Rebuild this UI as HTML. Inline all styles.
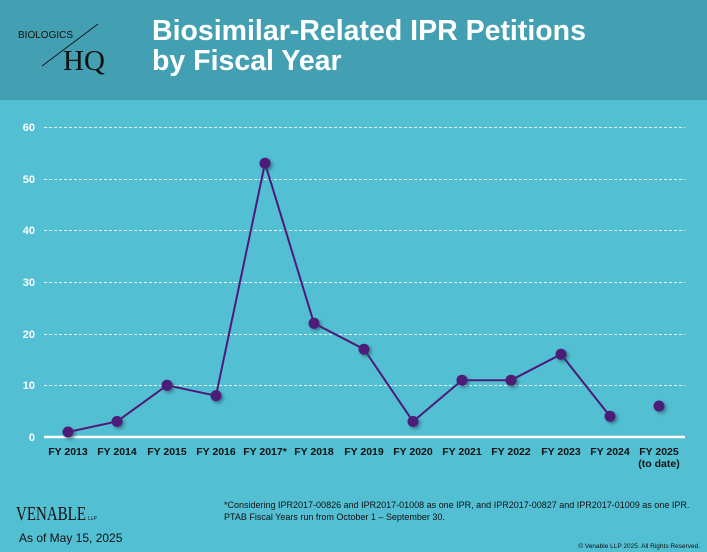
<!DOCTYPE html><html><head><style>
body{margin:0;width:707px;height:552px;overflow:hidden;background:#53BFD3;font-family:"Liberation Sans",sans-serif;position:relative}
.hdr{position:absolute;left:0;top:0;width:707px;height:100px;background:#43A0B3}
.t{position:absolute;left:152px;top:16px;color:#fff;font-weight:bold;font-size:28.5px;line-height:30px}
</style></head><body>
<div class="hdr"></div>
<div class="t">Biosimilar-Related IPR Petitions<br>by Fiscal Year</div>
<svg width="707" height="552" style="position:absolute;left:0;top:0">
<text x="18" y="38" font-size="10" fill="#111" font-family="Liberation Sans">BIOLOGICS</text>
<line x1="42" y1="66" x2="98" y2="24" stroke="#111" stroke-width="0.8"/>
<text x="63" y="70" font-size="29" fill="#111" font-family="Liberation Serif">HQ</text>
<defs><filter id="s" x="-1" y="-1" width="3" height="3"><feDropShadow dx="2" dy="2" stdDeviation="1.5" flood-color="#1a4f5a" flood-opacity="0.6"/></filter></defs>
<g stroke="#fff" stroke-width="1" stroke-dasharray="3,2" opacity="0.85">
<line x1="44" x2="685" y1="127.5" y2="127.5"/><line x1="44" x2="685" y1="179.5" y2="179.5"/><line x1="44" x2="685" y1="230.5" y2="230.5"/><line x1="44" x2="685" y1="282.5" y2="282.5"/><line x1="44" x2="685" y1="334.5" y2="334.5"/><line x1="44" x2="685" y1="385.5" y2="385.5"/>
</g>
<line x1="44" x2="685" y1="437" y2="437" stroke="#fff" stroke-width="2.5"/>
<g fill="#fff" font-size="11" font-weight="bold" text-anchor="end">
<text x="35" y="131">60</text><text x="35" y="183">50</text><text x="35" y="234">40</text><text x="35" y="286">30</text><text x="35" y="338">20</text><text x="35" y="389">10</text><text x="35" y="441">0</text>
</g>
<g fill="#111" font-size="10.5" font-weight="bold" text-anchor="middle">
<text x="68" y="455">FY 2013</text><text x="117" y="455">FY 2014</text><text x="167" y="455">FY 2015</text><text x="216" y="455">FY 2016</text><text x="265" y="455">FY 2017*</text><text x="314" y="455">FY 2018</text><text x="364" y="455">FY 2019</text><text x="413" y="455">FY 2020</text><text x="462" y="455">FY 2021</text><text x="511" y="455">FY 2022</text><text x="561" y="455">FY 2023</text><text x="610" y="455">FY 2024</text><text x="659" y="455">FY 2025</text><text x="659" y="467">(to date)</text>
</g>
<polyline fill="none" stroke="#4E1A78" stroke-width="2" points="68,432 117,421.5 167,385.3 216,395.7 265,163.2 314,323.3 364,349.2 413,421.5 462,380.2 511,380.2 561,354.3 610,416.3"/>
<g fill="#4E1A78" filter="url(#s)">
<circle cx="68" cy="432" r="5.5"/><circle cx="117" cy="421.5" r="5.5"/><circle cx="167" cy="385.3" r="5.5"/><circle cx="216" cy="395.7" r="5.5"/><circle cx="265" cy="163.2" r="5.5"/><circle cx="314" cy="323.3" r="5.5"/><circle cx="364" cy="349.2" r="5.5"/><circle cx="413" cy="421.5" r="5.5"/><circle cx="462" cy="380.2" r="5.5"/><circle cx="511" cy="380.2" r="5.5"/><circle cx="561" cy="354.3" r="5.5"/><circle cx="610" cy="416.3" r="5.5"/><circle cx="659" cy="406" r="5.5"/>
</g>
<text x="16" y="520" font-size="20" fill="#111" font-family="Liberation Serif" textLength="70" lengthAdjust="spacingAndGlyphs">VENABLE</text>
<text x="88" y="520" font-size="5" fill="#111">LLP</text>
<text x="19" y="542" font-size="12" fill="#111">As of May 15, 2025</text>
<text x="224" y="508" font-size="9" fill="#111">*Considering IPR2017-00826 and IPR2017-01008 as one IPR, and IPR2017-00827 and IPR2017-01009 as one IPR.</text>
<text x="224" y="520" font-size="9" fill="#111">PTAB Fiscal Years run from October 1 – September 30.</text>
<text x="700" y="548" font-size="6.5" fill="#111" text-anchor="end">© Venable LLP 2025. All Rights Reserved.</text>
</svg>
</body></html>
